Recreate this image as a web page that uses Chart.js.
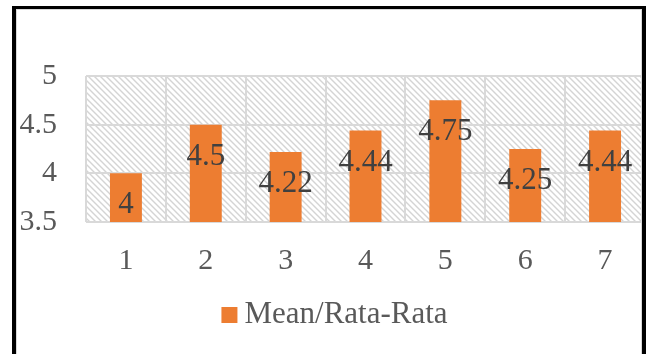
<!DOCTYPE html>
<html>
<head>
<meta charset="utf-8">
<script src="https://cdn.jsdelivr.net/npm/chart.js@4/dist/chart.umd.min.js"></script>
<style>
  html, body { margin: 0; padding: 0; background: #ffffff; }
  #wrap { position: relative; width: 653px; height: 354px; overflow: hidden; }
  #c { position: absolute; left: 0; top: 0; }
  #frame {
    position: absolute; left: 12px; top: 6px; width: 626px; height: 400px;
    border-left: 4px solid #000; border-right: 4px solid #000; border-top: 3px solid #000;
    pointer-events: none;
  }
  #inner {
    position: absolute; left: 16px; top: 9px; width: 624px; height: 400px;
    border: 1px solid #d9d9d9; pointer-events: none;
  }
</style>
</head>
<body>
<div id="wrap">
  <canvas id="c" width="653" height="354"></canvas>
  <div id="inner"></div>
  <div id="frame"></div>
</div>
<script>
// Survey items and their mean scores
const categories = ['1', '2', '3', '4', '5', '6', '7'];
const meanValues = [4, 4.5, 4.22, 4.44, 4.75, 4.25, 4.44];
const seriesName = 'Mean/Rata-Rata';
const yTickValues = [3.5, 4, 4.5, 5];
const yTickLabels = ['3.5', '4', '4.5', '5'];

const SERIF = "'Liberation Serif', 'Times New Roman', serif";
const BAR_COLOR = '#ED7D31';
const GRID_COLOR = '#d9d9d9';

// Light downward-diagonal hatch used for the plot background
function makeHatch() {
  const s = 6;
  const t = document.createElement('canvas');
  t.width = s; t.height = s;
  const g = t.getContext('2d');
  g.fillStyle = '#ffffff';
  g.fillRect(0, 0, s, s);
  g.strokeStyle = '#d4d4d4';
  g.lineWidth = 1.4;
  g.beginPath();
  g.moveTo(-1, -1); g.lineTo(s + 1, s + 1);
  g.moveTo(-1, s - 1); g.lineTo(1, s + 1);
  g.moveTo(s - 1, -1); g.lineTo(s + 1, 1);
  g.stroke();
  return t;
}

const hatchBackground = {
  id: 'hatchBackground',
  beforeDraw(chart) {
    const {ctx, chartArea: a} = chart;
    ctx.save();
    ctx.fillStyle = ctx.createPattern(makeHatch(), 'repeat');
    ctx.fillRect(a.left, a.top, a.right - a.left, a.bottom - a.top);
    ctx.restore();
  }
};

// Value labels placed just inside the top of each bar
const valueLabels = {
  id: 'valueLabels',
  afterDatasetsDraw(chart) {
    const {ctx} = chart;
    const meta = chart.getDatasetMeta(0);
    const data = chart.data.datasets[0].data;
    ctx.save();
    ctx.font = '31px ' + SERIF;
    ctx.fillStyle = '#404040';
    ctx.textAlign = 'center';
    ctx.textBaseline = 'middle';
    meta.data.forEach((bar, i) => {
      ctx.fillText(String(data[i]), bar.x, bar.y + 32);
    });
    ctx.restore();
  }
};

// Legend entry centred under the plot
const bottomLegend = {
  id: 'bottomLegend',
  afterDraw(chart) {
    const {ctx} = chart;
    const ds = chart.data.datasets[0];
    ctx.save();
    ctx.font = '31px ' + SERIF;
    const tw = ctx.measureText(ds.label).width;
    const box = 16, gap = 7;
    const total = box + gap + tw;
    const cx = 334.5, cy = 315;
    const x0 = cx - total / 2;
    ctx.fillStyle = ds.backgroundColor;
    ctx.fillRect(x0, cy - box / 2, box, box);
    ctx.fillStyle = '#595959';
    ctx.textAlign = 'left';
    ctx.textBaseline = 'middle';
    ctx.fillText(ds.label, x0 + box + gap, cy);
    ctx.restore();
  }
};

new Chart(document.getElementById('c'), {
  type: 'bar',
  data: {
    labels: categories,
    datasets: [{
      label: seriesName,
      data: meanValues,
      backgroundColor: BAR_COLOR,
      borderWidth: 0,
      barPercentage: 0.4,
      categoryPercentage: 1
    }]
  },
  options: {
    responsive: false,
    devicePixelRatio: 1,
    animation: false,
    layout: { padding: { left: 0, top: 76, right: 8, bottom: 0 } },
    plugins: {
      legend: { display: false },
      tooltip: { enabled: false }
    },
    scales: {
      x: {
        grid: { color: GRID_COLOR, lineWidth: 2, drawTicks: false, offset: true },
        border: { display: false },
        ticks: {
          font: { family: SERIF, size: 30 },
          color: '#595959',
          padding: 21
        },
        afterFit(scale) { scale.height = 132; }
      },
      y: {
        min: 3.5,
        max: 5,
        grid: { color: GRID_COLOR, lineWidth: 2, drawTicks: false },
        border: { display: false },
        afterBuildTicks(scale) { scale.ticks = yTickValues.map(v => ({ value: v })); },
        ticks: {
          font: { family: SERIF, size: 30 },
          color: '#595959',
          padding: 29,
          callback(value) {
            const i = yTickValues.indexOf(value);
            return i >= 0 ? yTickLabels[i] : '';
          }
        },
        afterFit(scale) { scale.width = 86; }
      }
    }
  },
  plugins: [hatchBackground, valueLabels, bottomLegend]
});
</script>
</body>
</html>
